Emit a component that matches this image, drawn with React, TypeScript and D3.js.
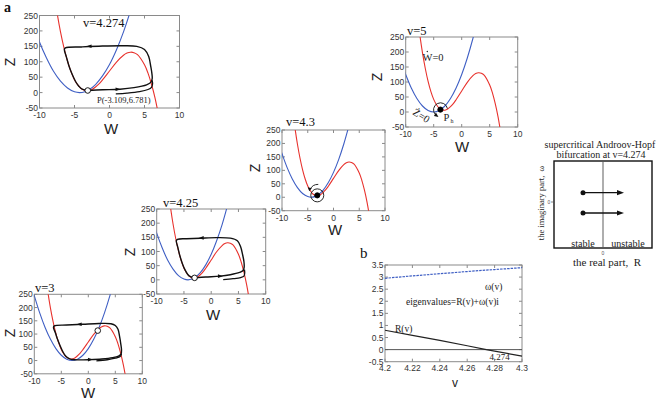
import React from 'react';
import * as d3 from 'd3';

type Pt = [number, number];

// ---------- phase-plane data (W, Z) ----------
const W_TICKS = [-10, -5, 0, 5, 10];
const Z_TICKS = [-50, 0, 50, 100, 150, 200, 250];

// W-nullcline (red), identical for every v
const W_NULLCLINE: Pt[] = [
  [-7.6, 275], [-7.5, 260], [-7, 197], [-6.5, 145], [-6, 102], [-5.5, 68], [-5, 42],
  [-4.5, 24], [-4, 12], [-3.5, 7], [-3, 6], [-2.5, 10], [-2, 18], [-1.5, 28], [-1, 41],
  [0, 70], [1, 99], [2, 121], [2.5, 128], [3, 131], [3.5, 129.5], [4, 123], [5, 90],
  [5.5, 63], [6, 27], [6.5, -17], [7, -72],
];

// Z-nullclines (blue), one per v
const Z_NULLCLINE_4274: Pt[] = [
  [-10.2, 178], [-10, 164], [-9, 112], [-8, 69], [-7, 37], [-6, 15], [-5, 2.6], [-4.27, 0],
  [-3.5, 3], [-3, 8.1], [-2, 26], [-1, 54], [0, 91], [1, 139], [2, 197], [3, 265],
];
const Z_NULLCLINE_5: Pt[] = [
  [-10.2, 135], [-10, 125], [-9, 80], [-8, 45], [-7, 20], [-6, 5], [-5, 0], [-4, 5],
  [-3, 20], [-2, 45], [-1, 80], [0, 125], [1, 180], [2, 245], [3, 320],
];
const Z_NULLCLINE_43: Pt[] = [
  [-10.2, 174], [-10, 162], [-9, 110], [-8, 68], [-7, 36], [-6, 14], [-5, 2.5], [-4.3, 0],
  [-3.5, 3.2], [-3, 8.5], [-2, 26.5], [-1, 54.5], [0, 92.5], [1, 140], [2, 198], [3, 266],
];
const Z_NULLCLINE_425: Pt[] = [
  [-10.2, 177], [-10, 165], [-9, 113], [-8, 70], [-7, 38], [-6, 15], [-5, 3], [-4.25, 0],
  [-3.5, 2.8], [-3, 7.8], [-2, 25.3], [-1, 52.8], [0, 90.3], [1, 138], [2, 195], [3, 263],
];
const Z_NULLCLINE_3: Pt[] = [
  [-10.2, 259], [-10, 245], [-9, 180], [-8, 125], [-7, 80], [-6, 45], [-5, 20], [-4, 5],
  [-3, 0], [-2, 5], [-1, 20], [0, 45], [1, 80], [2, 125], [3, 180], [4, 245], [5, 320],
];

// limit cycles and approaching trajectories (black)
const CYCLE_4274: Pt[] = [
  [-3.1, 6.8], [-1, 9], [1.5, 11], [3.5, 16], [5.3, 25], [5.9, 33], [6.1, 45], [6.05, 63],
  [5.9, 84], [5.6, 117], [5.0, 140], [3.9, 150], [2, 152], [-1, 151], [-4, 148], [-6.3, 145],
  [-6.45, 140], [-6.15, 115], [-5.8, 87], [-5.35, 60], [-4.85, 36], [-4.35, 20], [-3.9, 11], [-3.1, 6.8],
];
const LOWER_4274: Pt[] = [[0.9, -4.5], [2.5, -2], [4.3, 3], [5.5, 10], [6.0, 17], [6.15, 28], [6.1, 40]];

const CYCLE_425: Pt[] = [
  [-3.05, 7], [-1, 10], [1.6, 13], [3.5, 18], [5.2, 26], [5.85, 33], [6.05, 45], [6.0, 65],
  [5.75, 90], [5.4, 117], [4.8, 138], [3.5, 147], [1, 149], [-2, 147], [-4.5, 145], [-6.2, 143],
  [-6.4, 138], [-6.1, 113], [-5.75, 85], [-5.3, 58], [-4.8, 35], [-4.3, 19], [-3.8, 11], [-3.05, 7],
];
const LOWER_425: Pt[] = [[2.2, 1], [4, 4], [5.4, 8], [6.0, 13], [6.15, 24], [6.1, 36]];

const CYCLE_3: Pt[] = [
  [-3.3, 5], [-2, 2.5], [0.3, 3.5], [2.5, 6], [4.5, 11], [5.6, 17], [6.05, 24], [6.15, 40],
  [6.0, 65], [5.8, 90], [5.5, 118], [5.0, 132], [4.2, 139], [2, 140], [-1, 137], [-4, 134],
  [-6.3, 131], [-6.45, 125], [-6.1, 105], [-5.7, 80], [-5.2, 55], [-4.7, 33], [-4.2, 17], [-3.7, 9], [-3.3, 5],
];
const LOWER_3: Pt[] = [[1.5, -1], [3.5, 3], [5, 9], [5.9, 15], [6.15, 26]];

// direction markers on the cycles: [W, Z, +1 right / -1 left]
const ARROWS_4274: [number, number, number][] = [[-2.85, 150.5, -1], [1.15, 10.7, 1]];
const ARROWS_425: [number, number, number][] = [[-1.75, 148, -1], [1.6, 13, 1]];
const ARROWS_3: [number, number, number][] = [[-1.6, 137, -1], [0.3, 3.5, 1]];

// equilibria
const EQ_4274: Pt = [-3.109, 6.781];
const EQ_5: Pt = [-3.8, 8];
const EQ_43: Pt = [-3.15, 7];
const EQ_425: Pt = [-3.05, 7];
const EQ_3: Pt = [1.75, 113];

// ---------- eigenvalue data ----------
const V_TICKS = [4.2, 4.22, 4.24, 4.26, 4.28, 4.3];
const EIG_TICKS = [-0.5, 0, 0.5, 1, 1.5, 2, 2.5, 3, 3.5];
const V_VALUES = [4.2, 4.22, 4.24, 4.26, 4.274, 4.28, 4.3];
const OMEGA_VALUES = [2.95, 3.05, 3.14, 3.23, 3.29, 3.31, 3.39];
const R_VALUES = [0.8, 0.59, 0.38, 0.16, 0, -0.06, -0.27];
const HOPF_V = 4.274;

const SERIF = '"Liberation Serif", "Times New Roman", serif';
const SANS = '"Liberation Sans", Arial, sans-serif';
const RED = '#e8322d';
const BLUE = '#3f5fc4';
const AXIS = '#8a8a8a';

type Box = { x: number; y: number; w: number; h: number };

interface PanelProps {
  id: string;
  box: Box;
  title: string;
  titlePos: Pt;
  zLabel: Pt;
  wLabel: Pt;
  zNull: Pt[];
  cycle?: Pt[];
  lower?: Pt[];
  arrows?: [number, number, number][];
  eq: Pt;
  eqFilled: boolean;
  extra?: (sx: d3.ScaleLinear<number, number>, sy: d3.ScaleLinear<number, number>) => React.ReactNode;
}

function PhasePanel(p: PanelProps) {
  const { box } = p;
  const sx = d3.scaleLinear().domain([-10, 10]).range([box.x, box.x + box.w]);
  const sy = d3.scaleLinear().domain([-50, 250]).range([box.y + box.h, box.y]);
  const line = d3
    .line<Pt>()
    .x((d) => sx(d[0]))
    .y((d) => sy(d[1]))
    .curve(d3.curveCatmullRom.alpha(0.5));
  const clip = `clip-${p.id}`;
  const bottom = box.y + box.h;
  const right = box.x + box.w;
  return (
    <g>
      <defs>
        <clipPath id={clip}>
          <rect x={box.x} y={box.y} width={box.w} height={box.h} />
        </clipPath>
      </defs>
      <rect x={box.x} y={box.y} width={box.w} height={box.h} fill="#fff" stroke={AXIS} strokeWidth={1} />
      {W_TICKS.map((t) => (
        <g key={`w${t}`}>
          <line x1={sx(t)} x2={sx(t)} y1={bottom} y2={bottom - 3} stroke={AXIS} />
          <line x1={sx(t)} x2={sx(t)} y1={box.y} y2={box.y + 3} stroke={AXIS} />
          <text x={sx(t)} y={bottom + 10} textAnchor="middle" fontFamily={SANS} fontSize={8.5} fill="#333">
            {t}
          </text>
        </g>
      ))}
      {Z_TICKS.map((t) => (
        <g key={`z${t}`}>
          <line x1={box.x} x2={box.x + 3} y1={sy(t)} y2={sy(t)} stroke={AXIS} />
          <line x1={right} x2={right - 3} y1={sy(t)} y2={sy(t)} stroke={AXIS} />
          <text x={box.x - 1.5} y={sy(t) + 3} textAnchor="end" fontFamily={SANS} fontSize={8.5} fill="#333">
            {t}
          </text>
        </g>
      ))}
      <g clipPath={`url(#${clip})`}>
        <path d={line(p.zNull) || ''} fill="none" stroke={BLUE} strokeWidth={1.1} />
        <path d={line(W_NULLCLINE) || ''} fill="none" stroke={RED} strokeWidth={1.1} />
        {p.cycle && <path d={line(p.cycle) || ''} fill="none" stroke="#111" strokeWidth={1.4} />}
        {p.lower && <path d={line(p.lower) || ''} fill="none" stroke="#111" strokeWidth={1.3} />}
        {(p.arrows || []).map(([w, z, dir], i) => {
          const cx = sx(w);
          const cy = sy(z);
          return (
            <polygon
              key={i}
              points={`${cx + dir * 3},${cy} ${cx - dir * 2},${cy - 1.8} ${cx - dir * 2},${cy + 1.8}`}
              fill="#111"
            />
          );
        })}
        {p.extra && p.extra(sx, sy)}
      </g>
      <circle
        cx={sx(p.eq[0])}
        cy={sy(p.eq[1])}
        r={p.eqFilled ? 2.6 : 2.8}
        fill={p.eqFilled ? '#000' : '#fff'}
        stroke="#000"
        strokeWidth={0.9}
      />
      <text x={p.titlePos[0]} y={p.titlePos[1]} fontFamily={SERIF} fontSize={12.5} fill="#111">
        {p.title}
      </text>
      <text
        x={p.zLabel[0]}
        y={p.zLabel[1]}
        transform={`rotate(-90, ${p.zLabel[0]}, ${p.zLabel[1]})`}
        textAnchor="middle"
        dominantBaseline="central"
        fontFamily={SANS}
        fontSize={14}
        fill="#222"
      >
        Z
      </text>
      <text
        x={p.wLabel[0]}
        y={p.wLabel[1]}
        textAnchor="middle"
        dominantBaseline="central"
        fontFamily={SANS}
        fontSize={15}
        fill="#222"
      >
        W
      </text>
    </g>
  );
}

function EigenPanel() {
  const box: Box = { x: 385, y: 265, w: 137, h: 96.7 };
  const sx = d3.scaleLinear().domain([4.2, 4.3]).range([box.x, box.x + box.w]);
  const sy = d3.scaleLinear().domain([-0.5, 3.5]).range([box.y + box.h, box.y]);
  const omega: Pt[] = V_VALUES.map((v, i) => [v, OMEGA_VALUES[i]]);
  const real: Pt[] = V_VALUES.map((v, i) => [v, R_VALUES[i]]);
  const line = d3
    .line<Pt>()
    .x((d) => sx(d[0]))
    .y((d) => sy(d[1]));
  const bottom = box.y + box.h;
  const right = box.x + box.w;
  return (
    <g>
      <text x={360} y={258} fontFamily={SERIF} fontSize={15} fill="#111">
        b
      </text>
      <rect x={box.x} y={box.y} width={box.w} height={box.h} fill="#fff" stroke={AXIS} />
      {V_TICKS.map((t) => (
        <g key={t}>
          <line x1={sx(t)} x2={sx(t)} y1={bottom} y2={bottom - 3} stroke={AXIS} />
          <line x1={sx(t)} x2={sx(t)} y1={box.y} y2={box.y + 3} stroke={AXIS} />
          <text x={sx(t)} y={bottom + 9.5} textAnchor="middle" fontFamily={SANS} fontSize={8.5} fill="#333">
            {t}
          </text>
        </g>
      ))}
      {EIG_TICKS.map((t) => (
        <g key={t}>
          <line x1={box.x} x2={box.x + 3} y1={sy(t)} y2={sy(t)} stroke={AXIS} />
          <line x1={right} x2={right - 3} y1={sy(t)} y2={sy(t)} stroke={AXIS} />
          <text x={box.x - 1.5} y={sy(t) + 3} textAnchor="end" fontFamily={SANS} fontSize={8.5} fill="#333">
            {t}
          </text>
        </g>
      ))}
      <line x1={box.x} x2={right} y1={sy(0)} y2={sy(0)} stroke="#555" strokeWidth={1} />
      <path d={line(omega) || ''} fill="none" stroke={BLUE} strokeWidth={1.2} strokeDasharray="2.5,1" />
      <path d={line(real) || ''} fill="none" stroke="#222" strokeWidth={1.2} />
      <text x={485} y={290} fontFamily={SERIF} fontSize={9.5} fill="#222">
        ω(v)
      </text>
      <text x={406} y={305} fontFamily={SERIF} fontSize={9.5} fill="#222">
        eigenvalues=R(v)+ω(v)i
      </text>
      <text x={395} y={332} fontFamily={SERIF} fontSize={9.5} fill="#222">
        R(v)
      </text>
      <text x={sx(HOPF_V) + 3} y={359.5} fontFamily={SERIF} fontSize={9} fill="#222">
        {HOPF_V}
      </text>
      <text x={455} y={387} textAnchor="middle" fontFamily={SANS} fontSize={12} fill="#222">
        v
      </text>
    </g>
  );
}

function HopfPanel() {
  const box: Box = { x: 554, y: 161, w: 98, h: 87 };
  const mid = box.x + box.w / 2;
  const ys = [192.7, 213];
  return (
    <g>
      <text x={600} y={148} textAnchor="middle" fontFamily={SERIF} fontSize={10} fill="#222">
        supercritical Androov-Hopf
      </text>
      <text x={601} y={158} textAnchor="middle" fontFamily={SERIF} fontSize={10} fill="#222">
        bifurcation at v=4.274
      </text>
      <rect x={box.x} y={box.y} width={box.w} height={box.h} fill="#fff" stroke="#111" strokeWidth={1.4} />
      <line x1={mid} x2={mid} y1={box.y + 1} y2={box.y + box.h - 1} stroke="#9a9a9a" strokeWidth={1.6} />
      {ys.map((y) => (
        <g key={y}>
          <line x1={583} x2={619} y1={y} y2={y} stroke="#111" strokeWidth={1.3} />
          <polygon points={`${624},${y} ${617},${y - 2.6} ${617},${y + 2.6}`} fill="#111" />
          <circle cx={583} cy={y} r={2.5} fill="#111" />
        </g>
      ))}
      <line x1={box.x - 3} x2={box.x} y1={202} y2={202} stroke="#555" strokeWidth={0.7} />
      <text x={549} y={204} textAnchor="middle" fontFamily={SANS} fontSize={5} fill="#555">
        0
      </text>
      <text x={mid} y={255} textAnchor="middle" fontFamily={SANS} fontSize={5} fill="#555">
        0
      </text>
      <text x={583} y={246.5} textAnchor="middle" fontFamily={SERIF} fontSize={10} fill="#222">
        stable
      </text>
      <text x={628} y={246.5} textAnchor="middle" fontFamily={SERIF} fontSize={10} fill="#222">
        unstable
      </text>
      <text x={607} y={266} textAnchor="middle" fontFamily={SERIF} fontSize={11} fill="#222">
        the real part,{'\u00a0\u00a0'}R
      </text>
      <text
        x={541}
        y={203}
        transform="rotate(-90, 541, 203)"
        textAnchor="middle"
        dominantBaseline="central"
        fontFamily={SERIF}
        fontSize={8.5}
        fill="#222"
      >
        the imaginary part,{'\u00a0\u00a0'}ω
      </text>
    </g>
  );
}

export default function App() {
  return (
    <svg
      width={669}
      height={401}
      viewBox="0 0 669 401"
      style={{ position: 'absolute', left: 0, top: 0, background: '#fff' }}
    >
      <rect width={669} height={401} fill="#fff" />
      <text x={4} y={12} fontFamily={SERIF} fontSize={14} fontWeight="bold" fill="#111">
        a
      </text>
      <PhasePanel
        id="p4274"
        box={{ x: 39.5, y: 15.5, w: 140, h: 92.5 }}
        title="v=4.274"
        titlePos={[83, 27]}
        zLabel={[10, 62]}
        wLabel={[111, 128]}
        zNull={Z_NULLCLINE_4274}
        cycle={CYCLE_4274}
        lower={LOWER_4274}
        arrows={ARROWS_4274}
        eq={EQ_4274}
        eqFilled={false}
        extra={() => (
          <text x={97} y={102.5} fontFamily={SERIF} fontSize={8.5} fill="#222">
            P(-3.109,6.781)
          </text>
        )}
      />
      <PhasePanel
        id="p5"
        box={{ x: 405.7, y: 37, w: 112, h: 90 }}
        title="v=5"
        titlePos={[407, 35]}
        zLabel={[377, 77]}
        wLabel={[462, 146]}
        zNull={Z_NULLCLINE_5}
        eq={EQ_5}
        eqFilled={true}
        extra={(sx, sy) => {
          const cx = sx(EQ_5[0]);
          const cy = sy(EQ_5[1]);
          return (
            <g>
              <path
                d={`M${cx - 5},${cy + 5} A7,7 0 1 1 ${cx + 7},${cy - 1}`}
                fill="none"
                stroke="#111"
                strokeWidth={0.9}
              />
              <polygon points={`${cx - 2},${cy + 7.5} ${cx - 6.5},${cy + 6.5} ${cx - 4.5},${cy + 3}`} fill="#111" />
              <text x={422.5} y={61} fontFamily={SERIF} fontSize={10.5} fill="#222">
                W=0
              </text>
              <circle cx={427.3} cy={51.5} r={0.7} fill="#222" />
              <text x={cx + 3} y={cy + 11} fontFamily={SERIF} fontSize={10.5} fill="#222">
                P
              </text>
              <text x={cx + 10} y={cy + 13} fontFamily={SERIF} fontSize={6} fill="#222">
                h
              </text>
            </g>
          );
        }}
      />
      <text
        x={412}
        y={114}
        transform="rotate(32, 412, 114)"
        fontFamily={SERIF}
        fontSize={10.5}
        fill="#222"
      >
        {'\u017B'}=0
      </text>
      <PhasePanel
        id="p43"
        box={{ x: 282, y: 130, w: 103, h: 80.7 }}
        title="v=4.3"
        titlePos={[286, 126]}
        zLabel={[255, 168]}
        wLabel={[335, 229]}
        zNull={Z_NULLCLINE_43}
        eq={EQ_43}
        eqFilled={true}
        extra={(sx, sy) => {
          const cx = sx(EQ_43[0]);
          const cy = sy(EQ_43[1]);
          return (
            <g>
              <circle cx={cx} cy={cy} r={6.5} fill="none" stroke="#111" strokeWidth={0.9} />
              <path
                d={`M${cx + 1},${cy - 11} Q${cx - 5},${cy - 11} ${cx - 7},${cy - 6}`}
                fill="none"
                stroke="#111"
                strokeWidth={0.9}
              />
              <polygon points={`${cx - 8},${cy - 4} ${cx - 9.5},${cy - 8} ${cx - 5.5},${cy - 7}`} fill="#111" />
            </g>
          );
        }}
      />
      <PhasePanel
        id="p425"
        box={{ x: 156.7, y: 209, w: 109, h: 85 }}
        title="v=4.25"
        titlePos={[163, 207]}
        zLabel={[130, 252]}
        wLabel={[213, 314]}
        zNull={Z_NULLCLINE_425}
        cycle={CYCLE_425}
        lower={LOWER_425}
        arrows={ARROWS_425}
        eq={EQ_425}
        eqFilled={false}
      />
      <PhasePanel
        id="p3"
        box={{ x: 34.3, y: 294.3, w: 108, h: 79.5 }}
        title="v=3"
        titlePos={[35, 292]}
        zLabel={[10, 333]}
        wLabel={[88, 392]}
        zNull={Z_NULLCLINE_3}
        cycle={CYCLE_3}
        lower={LOWER_3}
        arrows={ARROWS_3}
        eq={EQ_3}
        eqFilled={false}
      />
      <EigenPanel />
      <HopfPanel />
    </svg>
  );
}
